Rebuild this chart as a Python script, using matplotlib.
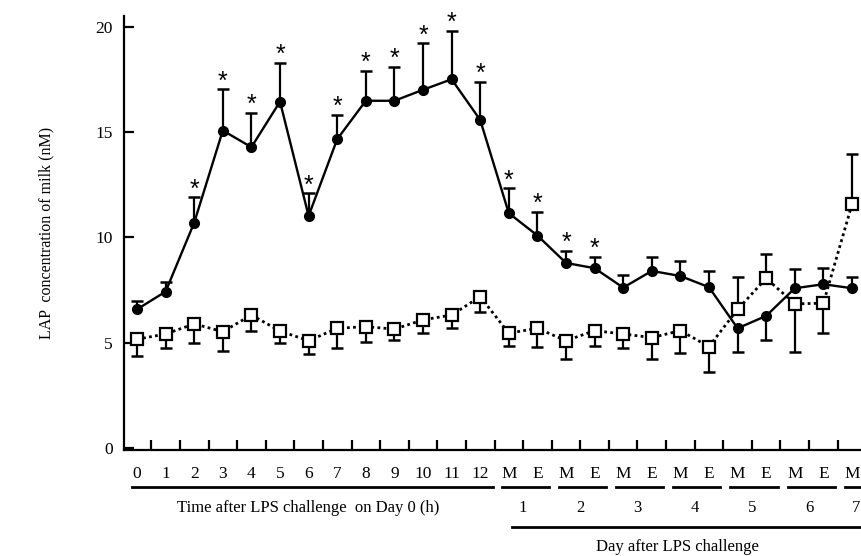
import matplotlib
matplotlib.use("Agg")
import matplotlib.pyplot as plt
import matplotlib.transforms as mtransforms
import numpy as np

plt.rcParams['font.family'] = ['Liberation Serif', 'DejaVu Serif']

# x categories: hours on day 0, then morning/evening milkings
hour_labels = [str(h) for h in range(13)]
day_labels = ['M', 'E'] * 6 + ['M']
x_labels = hour_labels + day_labels

# LPS-challenged quarters (filled circles)
lps_mean = [6.59, 7.43, 10.70, 15.07, 14.28, 16.44, 11.02, 14.66, 16.48, 16.48,
            17.00, 17.50, 15.57, 11.15, 10.09, 8.79, 8.54, 7.62, 8.41, 8.17,
            7.64, 5.69, 6.28, 7.59, 7.78, 7.59]
lps_err_end = [7.00, 7.90, 11.91, 17.03, 15.92, 18.29, 12.10, 15.81, 17.90, 18.10,
               19.21, 19.81, 17.39, 12.33, 11.22, 9.36, 9.09, 8.21, 9.09, 8.89,
               8.43, 4.58, 5.14, 8.51, 8.54, 8.14]

# control quarters (open squares)
ctl_mean = [5.17, 5.42, 5.90, 5.53, 6.32, 5.56, 5.10, 5.69, 5.77, 5.65,
            6.09, 6.32, 7.19, 5.46, 5.69, 5.10, 5.58, 5.42, 5.25, 5.58,
            4.82, 6.59, 8.06, 6.85, 6.88, 11.57]
ctl_err_end = [4.38, 4.77, 5.01, 4.63, 5.58, 5.01, 4.47, 4.74, 5.03, 5.14,
               5.48, 5.69, 6.45, 4.87, 4.82, 4.24, 4.87, 4.74, 4.24, 4.54,
               3.63, 8.14, 9.20, 4.58, 5.48, 13.96]

# points marked significant
star_idx = list(range(2, 17))

day_numbers = ['1', '2', '3', '4', '5', '6', '7']

x = np.arange(len(x_labels))

fig = plt.figure(figsize=(8.62, 5.56), dpi=100)
ax = fig.add_axes([124 / 862, (556 - 450.4) / 556, 738 / 862, (450.4 - 16) / 556])

# error bars (one-sided)
ax.vlines(x, ctl_mean, ctl_err_end, color='black', lw=1.6, zorder=2)
ax.plot(x, ctl_err_end, ls='none', marker='_', ms=8, mew=1.8, color='black', zorder=2)
ax.vlines(x, lps_mean, lps_err_end, color='black', lw=1.6, zorder=2)
ax.plot(x, lps_err_end, ls='none', marker='_', ms=8, mew=1.8, color='black', zorder=2)

# series
ax.plot(x, ctl_mean, ls=(0, (1, 1.2)), lw=2.0, color='black', marker='s', ms=8.5,
        mfc='white', mec='black', mew=1.6, zorder=3)
ax.plot(x, lps_mean, ls='-', lw=1.7, color='black', marker='o', ms=7,
        mfc='black', mec='black', zorder=4)

# significance stars
for i in star_idx:
    ax.annotate('*', (x[i], lps_err_end[i]), xytext=(0, 0.5), textcoords='offset points',
                ha='center', va='baseline', fontsize=18, family='Liberation Sans')

ax.set_xlim(-0.455, 25.35)
ax.set_ylim(-0.1, 20.5)

for side in ['top', 'right']:
    ax.spines[side].set_visible(False)
for side in ['left', 'bottom']:
    ax.spines[side].set_linewidth(1.6)
ax.spines['left'].set_bounds(-0.1, 20.5)

ax.set_yticks([0, 5, 10, 15, 20])
ax.tick_params(axis='y', direction='in', length=7, width=1.6, pad=8, labelsize=12.5)

ax.set_xticks(np.arange(len(x_labels) - 1) + 0.5)
ax.set_xticklabels([])
ax.set_xticks(x, minor=True)
ax.set_xticklabels(x_labels, minor=True)
ax.tick_params(axis='x', which='major', direction='in', length=7, width=1.6)
ax.tick_params(axis='x', which='minor', length=0, pad=11, labelsize=12.5)

ax.set_ylabel('LAP  concentration of milk (nM)', fontsize=11.5)
ax.yaxis.set_label_coords(-0.094, 0.5)

# bracket lines and group labels under the axis
tr = mtransforms.blended_transform_factory(ax.transData, fig.transFigure)

def fy(py):
    return (556 - py) / 556

ax.plot([-0.19, 12.46], [fy(486.7)] * 2, color='black', lw=2, transform=tr, clip_on=False)
for d in range(7):
    m = 13 + 2 * d
    end = m + 1.4 if d < 6 else 26
    ax.plot([m - 0.25, end], [fy(486.7)] * 2, color='black', lw=2, transform=tr, clip_on=False)
    xt = m + 0.5 if d < 6 else 25.15
    ax.text(xt, fy(508.3), day_numbers[d], transform=tr, ha='center', va='center', fontsize=12)

ax.text(6.0, fy(508.3), 'Time after LPS challenge  on Day 0 (h)', transform=tr,
        ha='center', va='center', fontsize=12)
ax.plot([13.1, 26], [fy(527.3)] * 2, color='black', lw=2, transform=tr, clip_on=False)
ax.text(18.9, fy(547.3), 'Day after LPS challenge', transform=tr,
        ha='center', va='center', fontsize=12)

fig.savefig('out.png', dpi=100)
